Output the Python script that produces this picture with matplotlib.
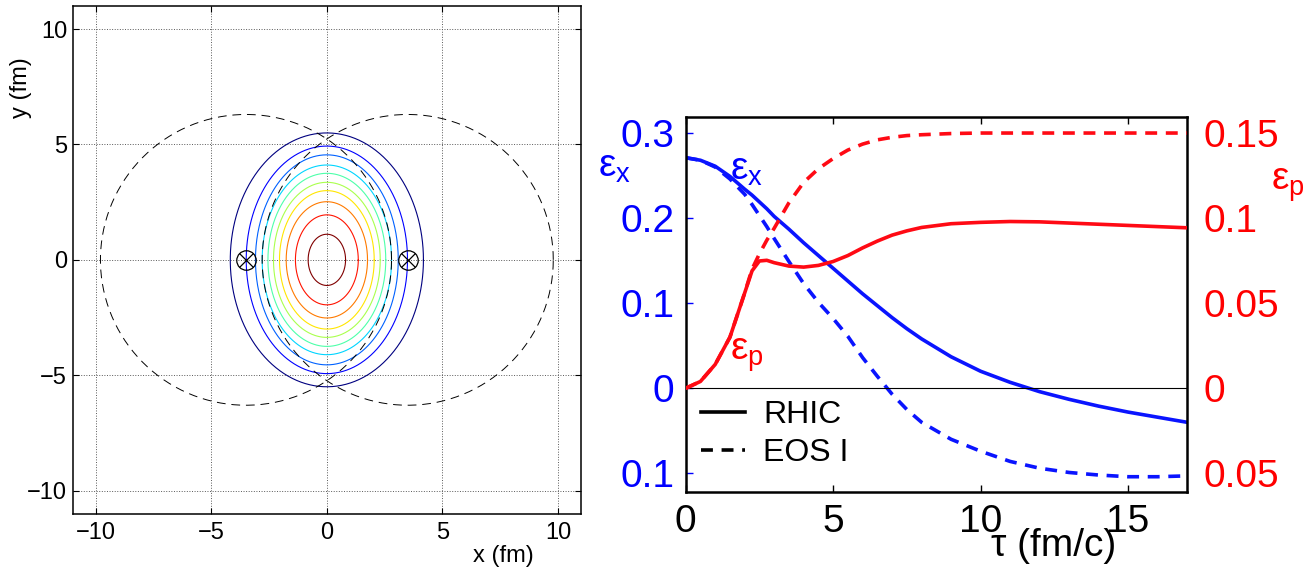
import matplotlib
matplotlib.use("Agg")
import matplotlib.pyplot as plt
import numpy as np
from matplotlib.lines import Line2D

plt.rcParams['font.family'] = ['Liberation Sans', 'DejaVu Sans']
plt.rcParams['mathtext.fontset'] = 'custom'
plt.rcParams['mathtext.rm'] = 'Liberation Sans'
plt.rcParams['mathtext.it'] = 'Liberation Sans'
plt.rcParams['mathtext.default'] = 'regular'

# left panel: contour ellipses (half-width, half-height in fm), outer -> inner
cont_a = [4.18, 3.49, 3.09, 2.80, 2.55, 2.31, 2.05, 1.76, 1.36, 0.81]
cont_b = [5.50, 4.93, 4.55, 4.11, 3.75, 3.36, 3.00, 2.52, 1.95, 1.11]
nuc_x = [-3.5, 3.5]
nuc_r = 6.3

# right panel: eccentricities vs tau
tau = [0, 0.5, 1, 1.5, 2, 2.25, 2.5, 2.75, 3, 3.5, 4, 4.5, 5, 5.5, 6, 6.5, 7, 7.5,
       8, 9, 10, 11, 12, 13, 14, 15, 16, 17]
ex_rhic = [0.271, 0.268, 0.261, 0.249, 0.234, 0.227, 0.219, 0.211, 0.202, 0.187,
           0.171, 0.156, 0.141, 0.126, 0.111, 0.097, 0.083, 0.070, 0.058, 0.037,
           0.020, 0.007, -0.004, -0.013, -0.021, -0.028, -0.034, -0.040]
ex_eos = [0.271, 0.268, 0.260, 0.246, 0.228, 0.216, 0.203, 0.190, 0.176, 0.149,
          0.123, 0.101, 0.082, 0.061, 0.036, 0.014, -0.007, -0.025, -0.040, -0.060,
          -0.074, -0.086, -0.094, -0.099, -0.102, -0.104, -0.104, -0.103]
ep_rhic = [0, 0.004, 0.014, 0.030, 0.056, 0.069, 0.0748, 0.0752, 0.0738, 0.0718,
           0.0712, 0.0722, 0.0745, 0.078, 0.0825, 0.0865, 0.090, 0.0925, 0.0945,
           0.0967, 0.0975, 0.098, 0.0978, 0.0971, 0.0964, 0.0957, 0.095, 0.0943]
ep_eos = [0, 0.004, 0.014, 0.030, 0.056, 0.070, 0.079, 0.087, 0.094, 0.109, 0.121,
          0.129, 0.135, 0.140, 0.1435, 0.146, 0.1475, 0.1485, 0.149, 0.1497, 0.15,
          0.15, 0.15, 0.15, 0.15, 0.15, 0.15, 0.15]

left_ticks = [-10, -5, 0, 5, 10]
ex_ticks = [0.3, 0.2, 0.1, 0, -0.1]
ex_ticklabels = ['0.3', '0.2', '0.1', '0', '0.1']
ep_ticks = [0.15, 0.1, 0.05, 0, -0.05]
ep_ticklabels = ['0.15', '0.1', '0.05', '0', '0.05']
tau_ticks = [0, 5, 10, 15]

W, H = 1314, 574
fig = plt.figure(figsize=(W / 100, H / 100), dpi=100)

# ---------------- left panel ----------------
ax1 = fig.add_axes([72.7 / W, 1 - 513.7 / H, 508.3 / W, 507.7 / H])
t = np.linspace(0, 2 * np.pi, 400)
cols = plt.cm.jet(np.linspace(0, 1, len(cont_a)))
for a, b, c in zip(cont_a, cont_b, cols):
    ax1.plot(a * np.cos(t), b * np.sin(t), color=c, lw=0.8)
for x0 in nuc_x:
    ax1.plot(x0 + nuc_r * np.cos(t), nuc_r * np.sin(t), color='k', lw=0.7,
             ls=(0, (9, 6)))
ax1.plot(nuc_x, [0, 0], 'o', ms=14, mfc='none', mec='k', mew=0.9)
ax1.plot(nuc_x, [0, 0], 'x', ms=10, mec='k', mew=0.9)
ax1.set_xlim(-11, 11)
ax1.set_ylim(-11, 11)
ax1.set_xticks(left_ticks)
ax1.set_yticks(left_ticks)
ax1.set_xticklabels(['\u221210', '\u22125', '0', '5', '10'])
ax1.set_yticklabels(['\u221210', '\u22125', '0', '5', '10'])
ax1.grid(True, ls=':', color='0.35', lw=0.7)
ax1.tick_params(direction='in', length=4, width=0.8, top=True, right=True,
                labelsize=17)
ax1.tick_params(axis='x', pad=6)
ax1.tick_params(axis='y', pad=4)
for s in ax1.spines.values():
    s.set_linewidth(1.1)
fig.text(503 / W, 1 - 556 / H, 'x (fm)', ha='center', va='center', fontsize=17)
fig.text(21 / W, 1 - 88 / H, 'y (fm)', ha='center', va='center', fontsize=17,
         rotation=90)

# ---------------- right panel ----------------
ax2 = fig.add_axes([685.7 / W, 1 - 491.7 / H, 501.3 / W, 375 / H])
ax2.plot(tau, ex_rhic, color='#0a14ff', lw=2.6)
ax2.plot(tau, ex_eos, color='#0a14ff', lw=2.6, dashes=(3.3, 2.4))
ax2.axhline(0, color='k', lw=0.8)
ax2.set_xlim(0, 17)
ax2.set_ylim(-0.1216, 0.3192)
ax2.set_xticks(tau_ticks)
ax2.set_yticks(ex_ticks)
ax2.set_yticklabels(ex_ticklabels)
ax2.tick_params(axis='y', colors='#0000ff', labelcolor='#0000ff', direction='in',
                length=5, width=1, right=True, labelsize=28, pad=8)
ax2.tick_params(axis='x', direction='in', length=5, width=1, top=True,
                labelsize=28, pad=9)
for s in ax2.spines.values():
    s.set_linewidth(1.8)

ax3 = ax2.twinx()
ax3.plot(tau, ep_rhic, color='#ff0a14', lw=2.6)
ax3.plot(tau, ep_eos, color='#ff0a14', lw=2.6, dashes=(3.3, 2.4))
ax3.set_ylim(-0.0608, 0.1596)
ax3.set_yticks(ep_ticks)
ax3.set_yticklabels(ep_ticklabels)
ax3.tick_params(axis='y', length=0, labelcolor='#ff0000', labelsize=28, pad=12)
for s in ax3.spines.values():
    s.set_visible(False)

handles = [Line2D([], [], color='k', lw=2.6),
           Line2D([], [], color='k', lw=2.6, dashes=(3.3, 2.4))]
ax3.legend(handles, ['RHIC', 'EOS I'], loc='upper left', frameon=False,
           bbox_to_anchor=(0.03, 0.245), borderaxespad=0, borderpad=0,
           fontsize=23, handlelength=1.4, handletextpad=0.55, labelspacing=0.25)

fig.text(598 / W, 1 - 177 / H, r'$\mathregular{ε_x}$', color='#0000ff',
         fontsize=28, ha='left', va='baseline')
fig.text(730 / W, 1 - 180 / H, r'$\mathregular{ε_x}$', color='#0000ff',
         fontsize=28, ha='left', va='baseline')
fig.text(730 / W, 1 - 360 / H, r'$\mathregular{ε_p}$', color='#ff0000',
         fontsize=28, ha='left', va='baseline')
fig.text(1271 / W, 1 - 190 / H, r'$\mathregular{ε_p}$', color='#ff0000',
         fontsize=28, ha='left', va='baseline')
fig.text(1054 / W, 1 - 546 / H, '\u03c4 (fm/c)', fontsize=28, ha='center',
         va='center')

fig.savefig('out.png', dpi=100)
